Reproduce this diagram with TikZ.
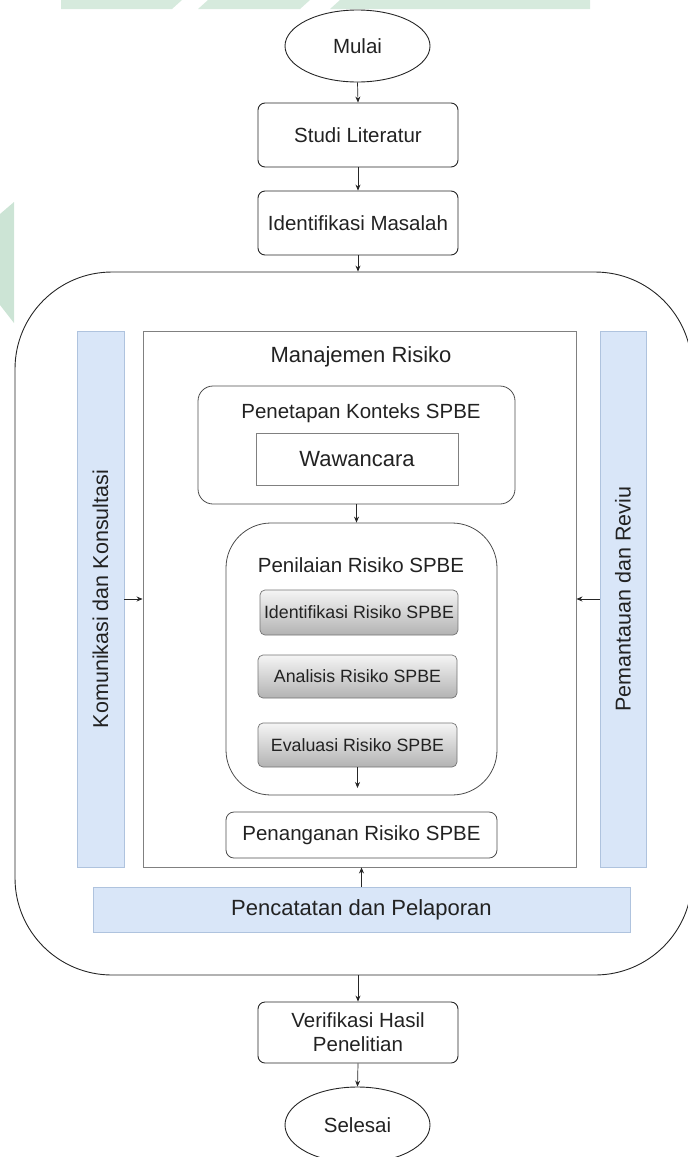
\documentclass[tikz,border=0pt]{standalone}
\usepackage{fontspec}
\setmainfont{Liberation Sans}
\usetikzlibrary{arrows.meta,shapes.geometric}
\definecolor{txt}{HTML}{222222}
\definecolor{barfill}{HTML}{D9E6F8}
\definecolor{bardraw}{HTML}{AFC3DE}
\definecolor{wm}{HTML}{D6EADD}
\definecolor{wmside}{HTML}{CCE4D5}
\begin{document}
\begin{tikzpicture}[x=1pt,y=-1pt,
  font=\fontsize{20.5}{24}\selectfont, text=txt,
  flow/.style={draw=black!85, line width=0.9pt, rounded corners=7pt, inner sep=0pt, align=center},
  term/.style={draw=black!85, line width=0.9pt, ellipse, inner sep=0pt},
  bar/.style={draw=bardraw, fill=barfill, line width=0.8pt, inner sep=0pt},
  grad/.style={draw=black!55, line width=0.7pt, rounded corners=5pt, top color=black!4, bottom color=black!30, inner sep=0pt, font=\fontsize{17.8}{20}\selectfont},
  frame/.style={line width=0.9pt, inner sep=0pt},
  arr/.style={-{Stealth[length=6pt,width=5pt]}, line width=0.7pt, draw=black!85}]
\clip (0,0) rectangle (688,1157);
% faint watermark
\fill[wm] (61,0) -- (182,0) -- (172,9) -- (61,9) -- cycle;
\fill[wm] (208,0) -- (310,0) -- (300,9) -- (198,9) -- cycle;
\fill[wm] (340,0) -- (590,0) -- (590,9) -- (330,9) -- cycle;
\fill[wmside] (0,214) -- (14,202) -- (14,323) -- (0,305) -- cycle;

% top flow
\node[term, minimum width=145pt, minimum height=72pt] (mulai) at (357.5,46) {Mulai};
\node[flow, minimum width=200pt, minimum height=64pt] (studi) at (358,135) {Studi Literatur};
\node[flow, minimum width=200pt, minimum height=64pt] (ident) at (358,223) {Identifikasi Masalah};

% outer cycle frame
\node[frame, draw=black!85, rounded corners=97pt, minimum width=677pt, minimum height=703pt] (siklus) at (353.5,623.5) {};

% side bars
\node[bar, minimum width=47pt, minimum height=536pt] (kom) at (100.5,599) {};
\node[rotate=90, font=\fontsize{21.5}{24}\selectfont] (komlabel) at (kom.center) {Komunikasi dan Konsultasi};
\node[bar, minimum width=46pt, minimum height=536pt] (rev) at (623,599) {};
\node[rotate=90, font=\fontsize{21.5}{24}\selectfont] (revlabel) at (rev.center) {Pemantauan dan Reviu};

% inner management box
\node[frame, draw=black!50, minimum width=433pt, minimum height=536pt] (mr) at (359.5,599) {};
\node[font=\fontsize{22}{26}\selectfont] (mrlabel) at (361,357) {Manajemen Risiko};

% context
\node[frame, draw=black!70, line width=0.8pt, rounded corners=15pt, minimum width=317pt, minimum height=118pt] (ptk) at (356.5,445) {};
\node (ptklabel) at (361,413) {Penetapan Konteks SPBE};
\node[frame, draw=black!50, line width=0.8pt, minimum width=202pt, minimum height=52pt, font=\fontsize{22}{26}\selectfont] (waw) at (357,459) {Wawancara};

% assessment
\node[frame, draw=black!70, line width=0.8pt, rounded corners=45pt, minimum width=271pt, minimum height=272pt] (pnl) at (361.5,659) {};
\node (pnllabel) at (361,565) {Penilaian Risiko SPBE};
\node[grad, minimum width=198pt, minimum height=45pt] (idr) at (359,612.5) {Identifikasi Risiko SPBE};
\node[grad, minimum width=199pt, minimum height=43pt] (anr) at (357.5,676.5) {Analisis Risiko SPBE};
\node[grad, minimum width=199pt, minimum height=44pt] (evr) at (357.5,745) {Evaluasi Risiko SPBE};
\coordinate (pnlin) at (357.5,788);

% treatment
\node[frame, draw=black!70, line width=0.8pt, rounded corners=8pt, minimum width=271pt, minimum height=46pt] (pnr) at (361.5,835) {Penanganan Risiko SPBE};

% recording bar
\node[bar, minimum width=537pt, minimum height=45pt, font=\fontsize{22}{26}\selectfont] (pc) at (361.5,909.5) {Pencatatan dan Pelaporan};

% bottom flow
\node[flow, minimum width=200pt, minimum height=61pt] (verif) at (358,1032.5) {Verifikasi Hasil\\Penelitian};
\node[term, minimum width=145pt, minimum height=76pt] (selesai) at (357.5,1125) {Selesai};

% connectors
\draw[arr] (mulai.south) -- (studi.north);
\draw[arr] (studi.south) -- (ident.north);
\draw[arr] (ident.south) -- (ident.south |- siklus.north);
\draw[arr] (verif.north |- siklus.south) -- (verif.north);
\draw[arr] (verif.south) -- (selesai.north);
\draw[arr] (ptk.south) -- (ptk.south |- pnl.north);
\draw[arr] (evr.south) -- (pnlin);
\draw[arr] (pc.north) -- (pc.north |- mr.south);
\draw[arr] (kom.east) -- (mr.west);
\draw[arr] (rev.west) -- (mr.east);
\end{tikzpicture}
\end{document}
